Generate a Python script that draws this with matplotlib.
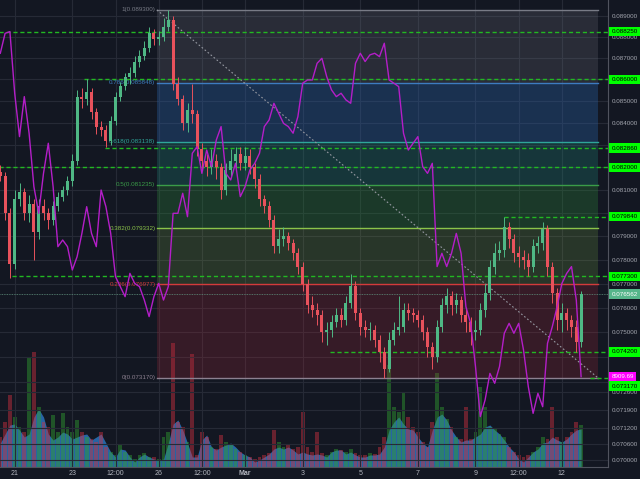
import numpy as np
import pandas as pd
import matplotlib
matplotlib.use('Agg')
import matplotlib.pyplot as plt
import matplotlib.dates as mdates
from matplotlib.ticker import NullLocator
from matplotlib.transforms import blended_transform_factory

plt.rcParams['font.family'] = ['Liberation Sans', 'DejaVu Sans']

BG = '#131722'

# 4h candles
times = pd.date_range('2018-02-20 12:00', periods=122, freq='4h')
open_first = 0.0818
closes = [0.0816, 0.0800, 0.0778, 0.0806, 0.0809, 0.0800, 0.0804, 0.0792, 0.0803, 0.0800,
          0.0797, 0.0803, 0.0807, 0.0810, 0.0814, 0.0823, 0.0852, 0.0851, 0.0854, 0.0845,
          0.0838, 0.0837, 0.0832, 0.0841, 0.0852, 0.0857, 0.0861, 0.0863, 0.0868, 0.0871,
          0.0875, 0.0882, 0.0879, 0.0880, 0.0885, 0.0888, 0.0858, 0.0851, 0.0840, 0.0846,
          0.0844, 0.0828, 0.0823, 0.0820, 0.0823, 0.0820, 0.0810, 0.0819, 0.0823, 0.0826,
          0.0822, 0.0825, 0.0820, 0.0815, 0.0806, 0.0803, 0.0797, 0.0786, 0.0789, 0.0790,
          0.0787, 0.0783, 0.0777, 0.0770, 0.0761, 0.0759, 0.0757, 0.0750, 0.0751, 0.0754,
          0.0757, 0.0755, 0.0762, 0.0769, 0.0758, 0.0752, 0.0751, 0.0751, 0.0747, 0.0742,
          0.0735, 0.0747, 0.0751, 0.0752, 0.0759, 0.0758, 0.0757, 0.0755, 0.0750, 0.0744,
          0.0740, 0.0752, 0.0761, 0.0765, 0.0761, 0.0763, 0.0757, 0.0754, 0.0750, 0.0751,
          0.0759, 0.0766, 0.0777, 0.0783, 0.0784, 0.0794, 0.0789, 0.0783, 0.0781, 0.0780,
          0.0777, 0.0786, 0.0787, 0.0793, 0.0777, 0.0766, 0.0755, 0.0758, 0.0755, 0.0752,
          0.0746, 0.076562]
highs = [0.0821, 0.0818, 0.0802, 0.0810, 0.0813, 0.0811, 0.0808, 0.0806, 0.0806, 0.0806,
         0.0802, 0.0805, 0.0809, 0.0812, 0.0816, 0.0826, 0.0855, 0.0856, 0.0860, 0.0856,
         0.0847, 0.0841, 0.0839, 0.0843, 0.0854, 0.0859, 0.0863, 0.0866, 0.0871, 0.0874,
         0.0878, 0.0885, 0.0884, 0.0883, 0.0889, 0.0893, 0.0890, 0.0861, 0.0853, 0.0849,
         0.0858, 0.0846, 0.0831, 0.0826, 0.0828, 0.0826, 0.0822, 0.0822, 0.0828, 0.0829,
         0.0829, 0.0829, 0.0828, 0.0822, 0.0817, 0.0808, 0.0805, 0.0799, 0.0793, 0.0794,
         0.0792, 0.0789, 0.0785, 0.0779, 0.0772, 0.0765, 0.0762, 0.0759, 0.0754, 0.0757,
         0.0760, 0.0760, 0.0765, 0.0774, 0.0771, 0.0760, 0.0755, 0.0754, 0.0753, 0.0749,
         0.0744, 0.0750, 0.0754, 0.0765, 0.0762, 0.0762, 0.0760, 0.0759, 0.0757, 0.0752,
         0.0746, 0.0755, 0.0764, 0.0768, 0.0767, 0.0766, 0.0765, 0.0760, 0.0756, 0.0755,
         0.0762, 0.0770, 0.0780, 0.0787, 0.0788, 0.07984, 0.0796, 0.0791, 0.0786, 0.0784,
         0.0783, 0.0789, 0.0790, 0.0796, 0.0795, 0.0779, 0.0768, 0.0762, 0.0760, 0.0757,
         0.0755, 0.0767]
lows = [0.0814, 0.0797, 0.07723, 0.0776, 0.0803, 0.0797, 0.0796, 0.0780, 0.0789, 0.0797,
        0.0793, 0.0795, 0.0801, 0.0805, 0.0808, 0.0812, 0.0821, 0.0847, 0.0848, 0.0842,
        0.0835, 0.0834, 0.0829, 0.0830, 0.0839, 0.0850, 0.0855, 0.0858, 0.0861, 0.0866,
        0.0869, 0.0873, 0.0876, 0.0876, 0.0878, 0.0883, 0.0855, 0.0848, 0.0837, 0.0836,
        0.0840, 0.0825, 0.0819, 0.0816, 0.0817, 0.0815, 0.0806, 0.0808, 0.0816, 0.0820,
        0.0819, 0.0819, 0.0817, 0.0811, 0.0803, 0.0800, 0.0794, 0.0783, 0.0783, 0.0786,
        0.0784, 0.0780, 0.0774, 0.0767, 0.0758, 0.0756, 0.0753, 0.0746, 0.0745, 0.0748,
        0.0752, 0.0752, 0.0753, 0.0760, 0.0755, 0.0749, 0.0748, 0.0747, 0.0744, 0.0738,
        0.07317, 0.0734, 0.0745, 0.0749, 0.0750, 0.0755, 0.0754, 0.0752, 0.0747, 0.0740,
        0.0735, 0.0738, 0.0750, 0.0758, 0.0757, 0.0758, 0.0754, 0.0750, 0.0745, 0.0747,
        0.0749, 0.0756, 0.0763, 0.0774, 0.0780, 0.0781, 0.0785, 0.0779, 0.0777, 0.0776,
        0.0773, 0.0775, 0.0783, 0.0784, 0.0773, 0.0762, 0.0751, 0.0750, 0.0751, 0.0748,
        0.0742, 0.0744]
volume = [30, 45, 72, 50, 40, 35, 110, 115, 60, 45,
          40, 52, 35, 54, 40, 35, 47, 35, 30, 28,
          25, 35, 20, 15, 12, 22, 15, 12, 8, 12,
          14, 10, 10, 8, 30, 35, 124, 45, 40, 25,
          113, 12, 35, 30, 20, 18, 32, 25, 22, 18,
          15, 12, 10, 8, 10, 12, 14, 37, 25, 20,
          22, 18, 20, 55, 20, 15, 35, 14, 12, 15,
          18, 17, 15, 18, 14, 12, 12, 14, 13, 20,
          30, 102, 60, 55, 75, 50, 40, 35, 25, 20,
          45, 94, 60, 48, 40, 30, 28, 60, 28, 35,
          80, 60, 40, 38, 33, 30, 20, 15, 12, 10,
          12, 15, 20, 30, 28, 60, 30, 25, 30, 35,
          45, 42]
vol_ma = [24, 33, 42, 43, 37, 30, 33, 50, 58, 50,
          33, 27, 30, 35, 33, 28, 30, 32, 33, 27,
          30, 33, 24, 15, 10, 18, 17, 10, 5, 10,
          13, 10, 8, 7, 8, 24, 43, 47, 37, 24,
          10, 10, 27, 32, 20, 17, 20, 22, 24, 20,
          15, 12, 10, 5, 7, 10, 13, 18, 20, 18,
          20, 17, 13, 15, 13, 12, 13, 12, 10, 15,
          17, 17, 13, 15, 12, 10, 10, 12, 12, 13,
          20, 37, 45, 50, 43, 38, 37, 30, 24, 20,
          37, 50, 53, 47, 37, 30, 25, 27, 27, 30,
          33, 40, 42, 37, 33, 27, 20, 15, 8, 5,
          10, 15, 18, 24, 25, 30, 27, 25, 28, 33,
          37, 38]
btc = [11490, 11649, 11663, 11171, 10825, 11144, 10852, 10426, 10213, 10532,
       10772, 10426, 9947, 10000, 9947, 9761, 9867, 10053, 10266, 10053,
       9947, 10399, 10266, 10053, 9708, 9628, 9548, 9734, 9654, 9628,
       9521, 9389, 9548, 9654, 9521, 9628, 10213, 10213, 10373, 10186,
       10692, 10745, 10532, 10718, 10585, 10798, 10905, 10532, 10479, 10612,
       10346, 10426, 10559, 10612, 10692, 10905, 10958, 11091, 11011, 10931,
       10905, 10852, 10985, 11251, 11277, 11277, 11410, 11450, 11304, 11198,
       11144, 11171, 11118, 11091, 11410, 11490, 11424, 11477, 11490, 11463,
       11570, 11277, 11251, 11224, 10852, 10718, 10772, 10825, 10585, 10532,
       10612, 9788, 9894, 9788, 9894, 10053, 9894, 9468, 9335, 8990,
       8591, 8724, 8936, 8857, 8990, 9256, 9335, 9256, 9335, 9123,
       8830, 8617, 8777, 8670, 9176, 9309, 9468, 9654, 9734, 9788,
       9521, 8909.69]

# horizontal levels drawn by hand
levels = [0.088250, 0.086000, 0.082860, 0.082000, 0.079840, 0.077300, 0.074200, 0.073170]
level_start = ['2018-02-20 00:00', '2018-02-23 10:00', '2018-02-24 03:00', '2018-02-20 00:00',
               '2018-03-10 00:00', '2018-02-20 22:00', '2018-03-03 23:00', '2018-03-12 23:30']

# fibonacci retracement
fib_ratios = ['1', '0.786', '0.618', '0.5', '0.382', '0.236', '0']
fib_prices = [0.089300, 0.085848, 0.083138, 0.081235, 0.079332, 0.076977, 0.073170]
fib_line_colors = ['#787b86', '#3d7cc0', '#2fa59a', '#3a9d48', '#8bc34a', '#d33b3b', '#8c8090']
fib_fill_colors = ['#787b86', '#2962a8', '#1f8a7a', '#2e8b3a', '#8bc34a', '#b52a3a']
fib_fill_alpha = [0.22, 0.35, 0.28, 0.3, 0.18, 0.22]
fib_start, fib_end = '2018-02-25 22:30', '2018-03-13 06:00'

price_ticks = [0.089, 0.088, 0.087, 0.086, 0.085, 0.084, 0.083, 0.082, 0.081, 0.080,
               0.079, 0.078, 0.077, 0.076, 0.075, 0.074, 0.073, 0.0726, 0.0719, 0.0712,
               0.0706, 0.0700]
# these sit under the level tags
hidden_ticks = [0.083, 0.080, 0.074, 0.073]
date_ticks = ['2018-02-21', '2018-02-23', '2018-02-24 12:00', '2018-02-26', '2018-02-27 12:00',
              '2018-03-01', '2018-03-03', '2018-03-05', '2018-03-07', '2018-03-09',
              '2018-03-10 12:00', '2018-03-12']
date_labels = ['21', '23', '12:00', '26', '12:00', 'Mar', '3', '5', '7', '9', '12:00', '12']
last_price = 0.076562

x = mdates.date2num(times)
closes = np.array(closes)
opens = np.array([open_first] + list(closes[:-1]))
is_up = closes >= opens
cols = np.where(is_up, '#4fb885', '#e8525c')
vcols = np.where(is_up, '#30a030', '#d03040')

d = lambda s: mdates.date2num(pd.Timestamp(s))
xlim = (d('2018-02-20 11:45'), d('2018-03-13 14:25'))

fig = plt.figure(figsize=(6.4, 4.79), dpi=100, facecolor=BG)
rect = [0, 12 / 479, 608 / 640, 467 / 479]

# volume pane (behind)
ax_vol = fig.add_axes(rect, facecolor=BG)
ax_vol.fill_between(x, 0, vol_ma, color='#2f7fd0', alpha=0.75, lw=0)
ax_vol.bar(x, volume, width=0.13, color=vcols, alpha=0.45, lw=0)
ax_vol.set_xlim(xlim)
ax_vol.set_ylim(0, 467)
ax_vol.axis('off')

# price pane
ax = fig.add_axes(rect, facecolor='none')
ax.set_yscale('log')
ax.set_xlim(xlim)
ax.set_ylim(0.06972, 0.08978)

fs, fe = d(fib_start), d(fib_end)
for i in range(len(fib_fill_colors)):
    ax.fill_between([fs, fe], fib_prices[i + 1], fib_prices[i], color=fib_fill_colors[i],
                    alpha=fib_fill_alpha[i], lw=0, zorder=1)
for r, p, c in zip(fib_ratios, fib_prices, fib_line_colors):
    ax.plot([fs, fe], [p, p], color=c, lw=1, zorder=2)
    ax.text(fs - 0.05, p, f'{r}({p:.6f})', color=c, fontsize=4.5, ha='right', va='center', zorder=2)
ax.plot([fs, fe], [fib_prices[0], fib_prices[-1]], color='#9598a1', lw=0.8, ls=(0, (1.5, 2)), zorder=2)

for lv, st in zip(levels, level_start):
    ax.plot([d(st), xlim[1]], [lv, lv], color='#22b822', lw=1, ls=(0, (3, 2)), zorder=2.6)
ax.axhline(last_price, color='#5f8f7c', lw=0.6, ls=(0, (1, 1)), zorder=2.6)

ax.vlines(x, lows, highs, colors=cols, lw=0.7, zorder=3)
ax.bar(x, np.maximum(np.abs(closes - opens), 0.00004), bottom=np.minimum(opens, closes),
       width=0.1, color=cols, lw=0, zorder=4)

ax.yaxis.tick_right()
ax.yaxis.set_minor_locator(NullLocator())
ax.set_yticks(price_ticks)
ax.set_yticklabels(['' if t in hidden_ticks else f'{t:.6f}' for t in price_ticks])
ax.set_xticks([d(t) for t in date_ticks])
ax.set_xticklabels(date_labels)
ax.get_xticklabels()[5].set_fontweight('bold')
ax.tick_params(axis='y', length=0, pad=3, labelsize=4.5, labelcolor='#a3a6af')
ax.tick_params(axis='x', length=0, pad=2, labelsize=5, labelcolor='#b2b5be')
ax.grid(True, color='#262a36', lw=0.8)
ax.set_axisbelow(True)
for s in ['top', 'left']:
    ax.spines[s].set_visible(False)
for s in ['right', 'bottom']:
    ax.spines[s].set_color('#50535e')

blend = blended_transform_factory(ax.transAxes, ax.transData)


def price_tag(axis, y, text, fc, tc, trans, dy=0):
    axis.annotate(text, xy=(1, y), xycoords=trans, xytext=(2.5, dy), textcoords='offset points',
                  ha='left', va='center', fontsize=4.5, color=tc, zorder=6, annotation_clip=False,
                  bbox=dict(boxstyle='square,pad=0.35', fc=fc, ec='none'))


for lv in levels[:-1]:
    price_tag(ax, lv, f'{lv:.6f}', '#00ff00', '#000000', blend)
price_tag(ax, levels[-1], f'{levels[-1]:.6f}', '#00ff00', '#000000', blend, dy=-6)
price_tag(ax, last_price, f'{last_price:.6f}', '#56b68b', '#ffffff', blend)

# BTC overlay
ax_btc = fig.add_axes(rect, facecolor='none')
ax_btc.plot(x, btc, color='#b41ec8', lw=1)
ax_btc.set_xlim(xlim)
ax_btc.set_ylim(8189, 11915)
ax_btc.axis('off')
price_tag(ax_btc, btc[-1], f'{btc[-1]:.2f}', '#ff00ff', '#ffffff',
          blended_transform_factory(ax_btc.transAxes, ax_btc.transData))

fig.savefig('out.png', dpi=100, facecolor=BG)
